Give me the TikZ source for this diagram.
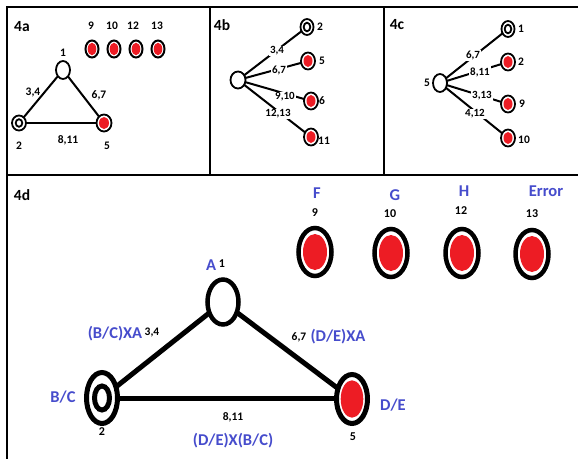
\documentclass[tikz,border=0pt]{standalone}
\usepackage{fontspec}
\setmainfont{Carlito}
\usetikzlibrary{shapes.geometric}
\definecolor{pblue}{RGB}{70,76,204}
\definecolor{pred}{RGB}{237,28,36}
\tikzset{
  frame/.style={line width=2pt, line cap=rect},
  thin edge/.style={line width=2pt},
  thick edge/.style={line width=5pt},
  plainst/.style 2 args={ellipse, draw, fill=white, inner sep=0pt, outer sep=0pt, minimum width=#1, minimum height=#2},
  accst/.style n args={4}{ellipse, draw, fill=white, inner sep=0pt, outer sep=0pt, minimum width=#1, minimum height=#2,
    path picture={\fill[pred] (path picture bounding box.center) ellipse [x radius=#3, y radius=#4];}},
  initst/.style n args={5}{ellipse, draw, fill=white, inner sep=0pt, outer sep=0pt, minimum width=#1, minimum height=#2,
    path picture={\draw[line width=#5] (path picture bounding box.center) ellipse [x radius=#3, y radius=#4];}},
  num/.style={font=\bfseries\fontsize{11.5}{12}\selectfont, inner sep=0pt},
  bignum/.style={font=\bfseries\fontsize{12}{13}\selectfont, inner sep=0pt},
  elab/.style={font=\bfseries\fontsize{11}{12}\selectfont, inner sep=1pt, fill=white},
  title/.style={font=\bfseries\fontsize{15.5}{16}\selectfont, inner sep=0pt},
  blab/.style={font=\bfseries\fontsize{16.5}{17}\selectfont, text=pblue, inner sep=0pt},
}
\begin{document}
\begin{tikzpicture}[x=1pt, y=-1pt]
\useasboundingbox (0,0) rectangle (578,458);
% frame
\draw[frame] (7,458) -- (7,7) -- (578,7);
\draw[frame] (7,175) -- (578,175);
\draw[frame] (210,7) -- (210,175);
\draw[frame] (384,7) -- (384,175);

% ---------- 4a ----------
\node[title] (t4a) at (22,27) {4a};
\node[plainst={14pt}{18pt}, line width=1.8pt] (a1) at (63,70) {};
\node[initst={14pt}{15pt}{3.3pt}{3.8pt}{1.8pt}, line width=1.8pt] (a2) at (19,123) {};
\node[accst={15pt}{17pt}{5pt}{6pt}, line width=1.8pt] (a5) at (104,123) {};
\node[accst={13pt}{17pt}{4.3pt}{6.3pt}, line width=2pt] (a9) at (92,49) {};
\node[accst={13pt}{17pt}{4.3pt}{6.3pt}, line width=2pt] (a10) at (114,49) {};
\node[accst={13pt}{17pt}{4.3pt}{6.3pt}, line width=2pt] (a12) at (136,49) {};
\node[accst={13pt}{17pt}{4.3pt}{6.3pt}, line width=2pt] (a13) at (158,49) {};
\draw[thin edge] (a2) -- (a1);
\draw[thin edge] (a1) -- (a5);
\draw[thin edge] (a2) -- (a5);
\node[num] (la9) at (91,26) {9};
\node[num] (la10) at (112,26) {10};
\node[num] (la12) at (133,26) {12};
\node[num] (la13) at (157,26) {13};
\node[num] (la1) at (63,53) {1};
\node[num] (la34) at (33,93) {3,4};
\node[num] (la67) at (99,95) {6,7};
\node[num] (la2) at (19,146) {2};
\node[num] (la811) at (68,140) {8,11};
\node[num] (la5) at (107,146) {5};

% ---------- 4b ----------
\node[title] (t4b) at (222,25) {4b};
\node[plainst={15pt}{17pt}, line width=1.8pt] (b0) at (238,80) {};
\node[initst={13pt}{16pt}{3.3pt}{4.3pt}{1.8pt}, line width=1.8pt] (b2) at (307,27) {};
\node[accst={14pt}{17pt}{4.5pt}{6pt}, line width=1.8pt] (b5) at (308,61) {};
\node[accst={14pt}{17pt}{4.5pt}{6pt}, line width=1.8pt] (b6) at (311,101) {};
\node[accst={14pt}{17pt}{4.5pt}{6pt}, line width=1.8pt] (b11) at (311,137) {};
\draw[thin edge] (b0) -- (b2);
\draw[thin edge] (b0) -- (b5);
\draw[thin edge] (b0) -- (b6);
\draw[thin edge] (b0) -- (b11);
\node[elab] (lb34) at (277,51) {3,4};
\node[elab] (lb67) at (279,70) {6,7};
\node[elab] (lb910) at (285,97) {9,10};
\node[elab] (lb1213) at (278,114) {12,13};
\node[num] (lb2) at (320,27) {2};
\node[num] (lb5) at (322,61) {5};
\node[num] (lb6) at (322,101) {6};
\node[num] (lb11) at (324,141) {11};

% ---------- 4c ----------
\node[title] (t4c) at (397,25) {4c};
\node[plainst={14pt}{18pt}, line width=1.8pt] (c0) at (440,83) {};
\node[initst={13pt}{16pt}{3.3pt}{4.3pt}{1.8pt}, line width=1.8pt] (c1) at (508,29) {};
\node[accst={14pt}{17pt}{4.5pt}{6pt}, line width=1.8pt] (c2) at (508,62) {};
\node[accst={14pt}{17pt}{4.5pt}{6pt}, line width=1.8pt] (c9) at (508,104) {};
\node[accst={14pt}{17pt}{4.5pt}{6pt}, line width=1.8pt] (c10) at (508,138) {};
\draw[thin edge] (c0) -- (c1);
\draw[thin edge] (c0) -- (c2);
\draw[thin edge] (c0) -- (c9);
\draw[thin edge] (c0) -- (c10);
\node[elab] (lc67) at (473,55) {6,7};
\node[elab] (lc811) at (480,72) {8,11};
\node[elab] (lc313) at (482,96) {3,13};
\node[elab] (lc412) at (475,114) {4,12};
\node[num] (lc5) at (427,83) {5};
\node[num] (lc1) at (521,29) {1};
\node[num] (lc2) at (521,62) {2};
\node[num] (lc9) at (522,104) {9};
\node[num] (lc10) at (524,140) {10};

% ---------- 4d ----------
\node[title] (t4d) at (22,195) {4d};
\node[plainst={31pt}{45pt}, line width=4.5pt] (dA) at (223,302) {};
\node[initst={31pt}{51pt}{7.5pt}{12pt}{5pt}, line width=5pt] (dB) at (102,398) {};
\node[accst={31pt}{49pt}{11.3pt}{18.7pt}, line width=5pt] (dD) at (352,399) {};
\node[accst={33pt}{48pt}{12pt}{18pt}, line width=4.5pt] (dF) at (315,252) {};
\node[accst={33pt}{48pt}{12pt}{18pt}, line width=4.5pt] (dG) at (391,253) {};
\node[accst={33pt}{48pt}{12pt}{18pt}, line width=4.5pt] (dH) at (462,253) {};
\node[accst={33pt}{48pt}{12pt}{18pt}, line width=4.5pt] (dErr) at (532,254) {};
\draw[thick edge] (dB) -- (dA);
\draw[thick edge] (dA) -- (dD);
\draw[thick edge] (dB.east) -- (dD.west |- dB.east);
\node[blab] (ldA) at (211,265) {A};
\node[bignum] (ld1) at (222,264) {1};
\node[blab] (ldBCXA) at (115,334) {(B/C)XA};
\node[num] (ld34) at (152,333) {3,4};
\node[num] (ld67) at (299,337) {6,7};
\node[blab] (ldDEXA) at (338,337) {(D/E)XA};
\node[blab] (ldBC) at (63,397) {B/C};
\node[bignum] (ld2) at (102,432) {2};
\node[num] (ld811) at (233,417) {8,11};
\node[blab] (ldDEXBC) at (233,441) {(D/E)X(B/C)};
\node[blab] (ldDE) at (393,405) {D/E};
\node[bignum] (ld5) at (353,437) {5};
\node[blab] (ldF) at (317,193) {F};
\node[blab] (ldG) at (395,195) {G};
\node[blab] (ldH) at (464,191) {H};
\node[blab] (ldErr) at (546,191) {Error};
\node[bignum] (ld9) at (315,213) {9};
\node[bignum] (ld10) at (390,214) {10};
\node[bignum] (ld12) at (461,211) {12};
\node[bignum] (ld13) at (532,214) {13};
\end{tikzpicture}
\end{document}
